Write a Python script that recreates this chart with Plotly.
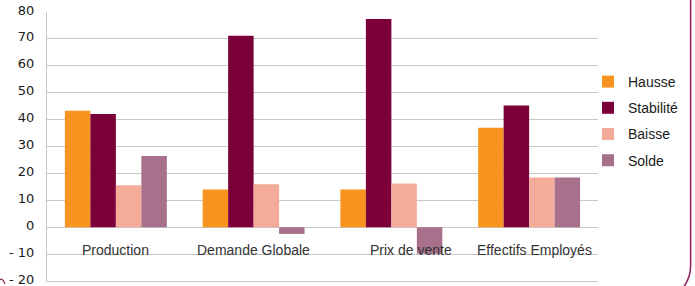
import plotly.graph_objects as go

categories = ["Production", "Demande Globale", "Prix de vente", "Effectifs Employés"]
series_names = ["Hausse", "Stabilité", "Baisse", "Solde"]
hausse = [43.3, 14.0, 14.0, 37.0]
stabilite = [42.1, 71.2, 77.4, 45.2]
baisse = [15.6, 16.0, 16.2, 18.5]
solde = [26.5, -2.5, -9.9, 18.5]
tick_values = [-20, -10, 0, 10, 20, 30, 40, 50, 60, 70, 80]
tick_labels = ["-\u00a020", "-\u00a010", "0", "10", "20", "30", "40", "50", "60", "70", "80"]

colors = ["#F7931E", "#7B003A", "#F4AB9A", "#A8708A"]
label_shift = [0, 0, 20, 5]

W, H = 695, 286
L, R, T, B = 47, 97, 12, 5
PW, PH = W - L - R, H - T - B


def px(x):
    return (x - L) / PW


def py(y):
    return (H - B - y) / PH


fig = go.Figure()
for name, vals, col in zip(series_names, [hausse, stabilite, baisse, solde], colors):
    fig.add_trace(go.Bar(
        x=categories, y=vals, name=name, marker_color=col,
        marker_line_width=0, legendgroup=name,
    ))

for cat, dx in zip(categories, label_shift):
    fig.add_annotation(
        x=cat, y=-8.6, xref="x", yref="y", text=cat, showarrow=False,
        xanchor="center", yanchor="middle", xshift=dx,
        font=dict(family="Liberation Sans, Arial", size=14, color="#333333"),
    )

border_col = "#8E1B5C"
fig.add_shape(
    type="path", xref="paper", yref="paper",
    path=f"M {px(690.6)},{py(-2)} L {px(690.6)},{py(266)} Q {px(690.6)},{py(278)} {px(683)},{py(288)}",
    line=dict(color=border_col, width=1.5),
)
fig.add_shape(
    type="path", xref="paper", yref="paper",
    path=f"M {px(-1)},{py(281)} Q {px(2)},{py(276)} {px(5)},{py(284)}",
    line=dict(color=border_col, width=1.2),
)

fig.update_layout(
    width=W, height=H,
    margin=dict(l=L, r=R, t=T, b=B, pad=0, autoexpand=False),
    paper_bgcolor="white", plot_bgcolor="white",
    barmode="group", bargap=0.26, bargroupgap=0,
    showlegend=True,
    legend=dict(
        x=px(588), xanchor="left", y=py(66), yanchor="top",
        font=dict(family="Liberation Sans, Arial", size=14, color="#1a1a1a"),
        tracegroupgap=5, itemwidth=30,
        bgcolor="rgba(0,0,0,0)",
    ),
    xaxis=dict(
        showticklabels=False, showgrid=False, zeroline=False,
        showline=True, linecolor="#C8C8C8", linewidth=1,
        ticks="",
    ),
    yaxis=dict(
        range=[-20, 80], tickvals=tick_values, ticktext=tick_labels,
        showgrid=True, gridcolor="#C8C8C8", gridwidth=1,
        zeroline=True, zerolinecolor="#C8C8C8", zerolinewidth=1,
        showline=True, linecolor="#C8C8C8", linewidth=1,
        ticks="", ticklabelstandoff=9, ticklabelshift=-2,
        ticklabeloverflow="allow",
        tickfont=dict(family="DejaVu Sans, Verdana", size=13, color="#1a1a1a"),
    ),
)

fig.write_html(
    "out.html",
    config={"displayModeBar": False},
    post_script="document.body.style.margin='0';",
)
